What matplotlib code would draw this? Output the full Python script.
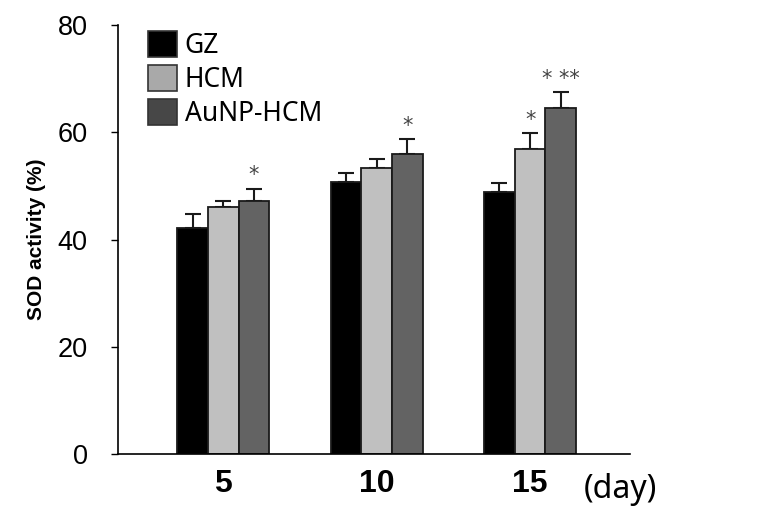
import numpy as np
import matplotlib.pyplot as plt
from matplotlib.patches import Patch

days = ['5', '10', '15']
groups = ['GZ', 'HCM', 'AuNP-HCM']
gz = [42.1, 50.8, 48.9]
hcm = [46.1, 53.3, 56.9]
aunp = [47.1, 55.9, 64.5]
gz_err = [2.7, 1.7, 1.6]
hcm_err = [1.1, 1.8, 2.9]
aunp_err = [2.4, 2.9, 3.0]
# significance marks above each bar
gz_sig = ['', '', '']
hcm_sig = ['', '', '*']
aunp_sig = ['*', '*', '* **']

colors = ['#000000', '#c0c0c0', '#636363']
legend_colors = ['#000000', '#a9a9a9', '#474747']

fig = plt.figure(figsize=(7.57, 5.23), dpi=100)
ax = fig.add_axes([0.156, 0.132, 0.676, 0.82])

x = np.arange(len(days))
w = 0.2
series = [(gz, gz_err, gz_sig), (hcm, hcm_err, hcm_sig), (aunp, aunp_err, aunp_sig)]
for i, (vals, errs, sig) in enumerate(series):
    pos = x + (i - 1) * w
    ax.bar(pos, vals, w, color=colors[i], edgecolor='#1a1a1a', linewidth=1.3, zorder=2)
    ax.errorbar(pos, vals, yerr=[np.zeros(len(vals)), errs], fmt='none',
                ecolor='#1a1a1a', elinewidth=1.5, capsize=5.5, capthick=1.5, zorder=1)
    for p, v, e, s in zip(pos, vals, errs, sig):
        if s:
            ax.text(p, v + e + 0.6, s, ha='center', va='bottom', fontsize=15,
                    color='#444444', family='DejaVu Sans')

ax.set_xlim(-0.686, 2.65)
ax.set_ylim(0, 80)
ax.set_yticks([0, 20, 40, 60, 80])
ax.set_xticks(x)
ax.set_xticklabels(days, fontsize=23, fontweight='bold', family='Liberation Sans')
ax.tick_params(axis='x', length=0, pad=11)
ax.tick_params(axis='y', direction='out', length=5, width=1, labelsize=19.5, pad=17)
for lbl in ax.get_yticklabels():
    lbl.set_family('Liberation Sans')
ax.spines['top'].set_visible(False)
ax.spines['right'].set_visible(False)
ax.spines['left'].set_linewidth(1.2)
ax.spines['bottom'].set_linewidth(1.2)
ax.set_ylabel('SOD activity (%)', fontsize=15, fontweight='bold',
              family='Liberation Sans', labelpad=8)

ax.text(2.35, -0.084, '(day)', fontsize=23, family='Noto Sans', ha='left', va='center',
        transform=ax.get_xaxis_transform(), clip_on=False)

handles = [Patch(facecolor=c, edgecolor='#333333', linewidth=1.2) for c in legend_colors]
ax.legend(handles, groups, loc='upper left', bbox_to_anchor=(0.037, 1.01), frameon=False,
          prop={'family': 'Noto Sans', 'size': 19}, handlelength=1.1, handleheight=1.1,
          handletextpad=0.3, labelspacing=0.2, borderaxespad=0)

fig.savefig('out.png', dpi=100)
